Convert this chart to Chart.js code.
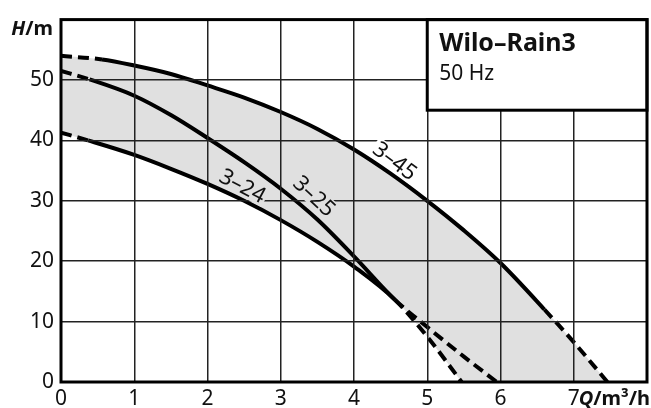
<!DOCTYPE html>
<html><head><meta charset="utf-8">
<script src="https://cdn.jsdelivr.net/npm/chart.js@4/dist/chart.umd.min.js"></script>
<style>html,body{margin:0;padding:0;background:#fff}</style>
</head><body>
<canvas id="c" width="651" height="408"></canvas>
<script>
// ---- data ----
const q45 = [0, 0.56, 1, 1.5, 2, 2.5, 3, 3.5, 4, 4.5, 5, 5.5, 6, 6.6, 7, 7.46];
const h45 = [54.0, 53.4, 52.4, 51.0, 49.1, 47.1, 44.7, 41.9, 38.5, 34.5, 30.0, 25.1, 19.7, 12.0, 6.6, 0];
const q25 = [0, 0.39, 1, 1.5, 2, 2.5, 3, 3.5, 4, 4.56, 5, 5.5, 5.95];
const h25 = [51.5, 50.1, 47.4, 44.2, 40.4, 36.4, 32.0, 26.9, 20.8, 13.6, 9.1, 4.2, 0];
const q24 = [0, 0.37, 1, 1.5, 2, 2.5, 3, 3.5, 4, 4.56, 5, 5.47];
const h24 = [41.3, 40.0, 37.6, 35.3, 32.8, 30.0, 26.8, 23.2, 19.1, 13.6, 7.5, 0];
// solid range of each curve (dashed outside)
const solid45 = [0.56, 6.6];
const solid25 = [0.39, 4.56];
const solid24 = [0.37, 4.56];

const xTickLabels = ['0', '1', '2', '3', '4', '5', '6', '7', ''];
const yTickLabels = ['0', '10', '20', '30', '40', '50', ''];
const curveNames = ['3–45', '3–25', '3–24'];
const labelQ = [4.56, 3.46, 2.48];
const labelH = [36.6, 30.8, 32.5];
const labelAngle = [37, 43, 28];
const titleText = 'Wilo–Rain3';
const subText = '50 Hz';
const legendBoxQ = [5, 8];
const legendBoxH = [45, 60];

const FONT = "'Noto Sans', 'Open Sans', sans-serif";
const GRAY = '#e0e0e0';

function pts(qs, hs) { return qs.map((q, i) => ({x: q, y: hs[i]})); }
function dashFor(range) {
  return ctx => (ctx.p1.parsed.x <= range[0] + 1e-6 || ctx.p0.parsed.x >= range[1] - 1e-6) ? [11, 6] : undefined;
}

const overlay = {
  id: 'overlay',
  afterDraw(chart) {
    const ctx = chart.ctx, xs = chart.scales.x, ys = chart.scales.y, a = chart.chartArea;
    ctx.save();
    // curve labels with gap in grid
    for (let i = 0; i < curveNames.length; i++) {
      const px = xs.getPixelForValue(labelQ[i]), py = ys.getPixelForValue(labelH[i]);
      ctx.save();
      ctx.translate(px, py);
      ctx.rotate(labelAngle[i] * Math.PI / 180);
      ctx.font = '22px ' + FONT;
      const w = ctx.measureText(curveNames[i]).width;
      ctx.fillStyle = i === 0 ? '#ffffff' : GRAY;
      ctx.fillRect(-w / 2 - 2, -10, w + 4, 20);
      ctx.fillStyle = '#111';
      ctx.textAlign = 'center';
      ctx.textBaseline = 'middle';
      ctx.fillText(curveNames[i], 0, 1);
      ctx.restore();
    }
    // legend box
    const bx0 = xs.getPixelForValue(legendBoxQ[0]), bx1 = xs.getPixelForValue(legendBoxQ[1]);
    const by0 = ys.getPixelForValue(legendBoxH[1]), by1 = ys.getPixelForValue(legendBoxH[0]);
    ctx.fillStyle = '#fff';
    ctx.fillRect(bx0, by0, bx1 - bx0, by1 - by0);
    ctx.lineWidth = 3;
    ctx.strokeStyle = '#000';
    ctx.strokeRect(bx0, by0, bx1 - bx0, by1 - by0);
    ctx.fillStyle = '#111';
    ctx.textAlign = 'left';
    ctx.textBaseline = 'alphabetic';
    ctx.font = 'bold 25px ' + FONT;
    ctx.fillText(titleText, bx0 + 12, by0 + 31);
    ctx.font = '21px ' + FONT;
    ctx.fillText(subText, bx0 + 12, by0 + 60);
    // frame
    ctx.lineWidth = 3;
    ctx.strokeRect(a.left, a.top, a.right - a.left, a.bottom - a.top);
    // axis titles
    ctx.fillStyle = '#111';
    ctx.textBaseline = 'alphabetic';
    ctx.textAlign = 'left';
    const SZ = '20px ';
    ctx.font = 'italic bold ' + SZ + FONT;
    let wH = ctx.measureText('H').width;
    ctx.font = 'bold ' + SZ + FONT;
    let wM = ctx.measureText('/m').width;
    let sx = 53 - wH - wM;
    ctx.font = 'italic bold ' + SZ + FONT;
    ctx.fillText('H', sx, 35);
    ctx.font = 'bold ' + SZ + FONT;
    ctx.fillText('/m', sx + wH, 35);
    ctx.font = 'italic bold ' + SZ + FONT;
    let wQ = ctx.measureText('Q').width;
    ctx.font = 'bold ' + SZ + FONT;
    let wR = ctx.measureText('/m³/h').width;
    sx = 650 - wQ - wR;
    ctx.font = 'italic bold ' + SZ + FONT;
    ctx.fillText('Q', sx, 405);
    ctx.font = 'bold ' + SZ + FONT;
    ctx.fillText('/m³/h', sx + wQ, 405);
    ctx.restore();
  }
};

const lineCommon = {fill: false, borderColor: '#000', borderWidth: 4, pointRadius: 0, cubicInterpolationMode: 'monotone', borderCapStyle: 'butt'};
const fillCommon = {borderWidth: 0, pointRadius: 0, cubicInterpolationMode: 'monotone', borderColor: 'rgba(0,0,0,0)'};

new Chart(document.getElementById('c'), {
  type: 'line',
  data: {
    datasets: [
      Object.assign({label: curveNames[1], data: pts(q25, h25), order: 0, segment: {borderDash: dashFor(solid25)}}, lineCommon),
      Object.assign({label: curveNames[2], data: pts(q24, h24), order: 1, segment: {borderDash: dashFor(solid24)}}, lineCommon),
      Object.assign({label: curveNames[0], data: pts(q45, h45), order: 2, segment: {borderDash: dashFor(solid45)}}, lineCommon),
      Object.assign({label: 'lower', data: pts(q24, h24), order: 4, fill: 'origin', backgroundColor: '#ffffff'}, fillCommon),
      Object.assign({label: 'upper', data: pts(q45, h45), order: 5, fill: 'origin', backgroundColor: GRAY}, fillCommon)
    ]
  },
  options: {
    responsive: false,
    animation: false,
    devicePixelRatio: 1,
    layout: {padding: {left: 0, right: 4, top: 14, bottom: 0}},
    plugins: {legend: {display: false}, tooltip: {enabled: false}},
    scales: {
      x: {
        type: 'linear', min: 0, max: 8,
        afterFit(s) { s.height = 26; },
        grid: {color: '#222', lineWidth: 1.5, z: 1, drawTicks: false},
        border: {display: false},
        ticks: {stepSize: 1, autoSkip: false, maxRotation: 0, padding: 4, color: '#111',
          font: {family: FONT, size: 21},
          callback: (v, i) => xTickLabels[i] ?? ''}
      },
      y: {
        type: 'linear', min: 0, max: 60,
        afterFit(s) { s.width = 61; },
        grid: {color: '#222', lineWidth: 1.5, z: 1, drawTicks: false},
        border: {display: false},
        ticks: {stepSize: 10, padding: 7, color: '#111',
          font: {family: FONT, size: 21},
          callback: (v, i) => yTickLabels[i] ?? ''}
      }
    }
  },
  plugins: [overlay]
});
</script>
</body></html>
